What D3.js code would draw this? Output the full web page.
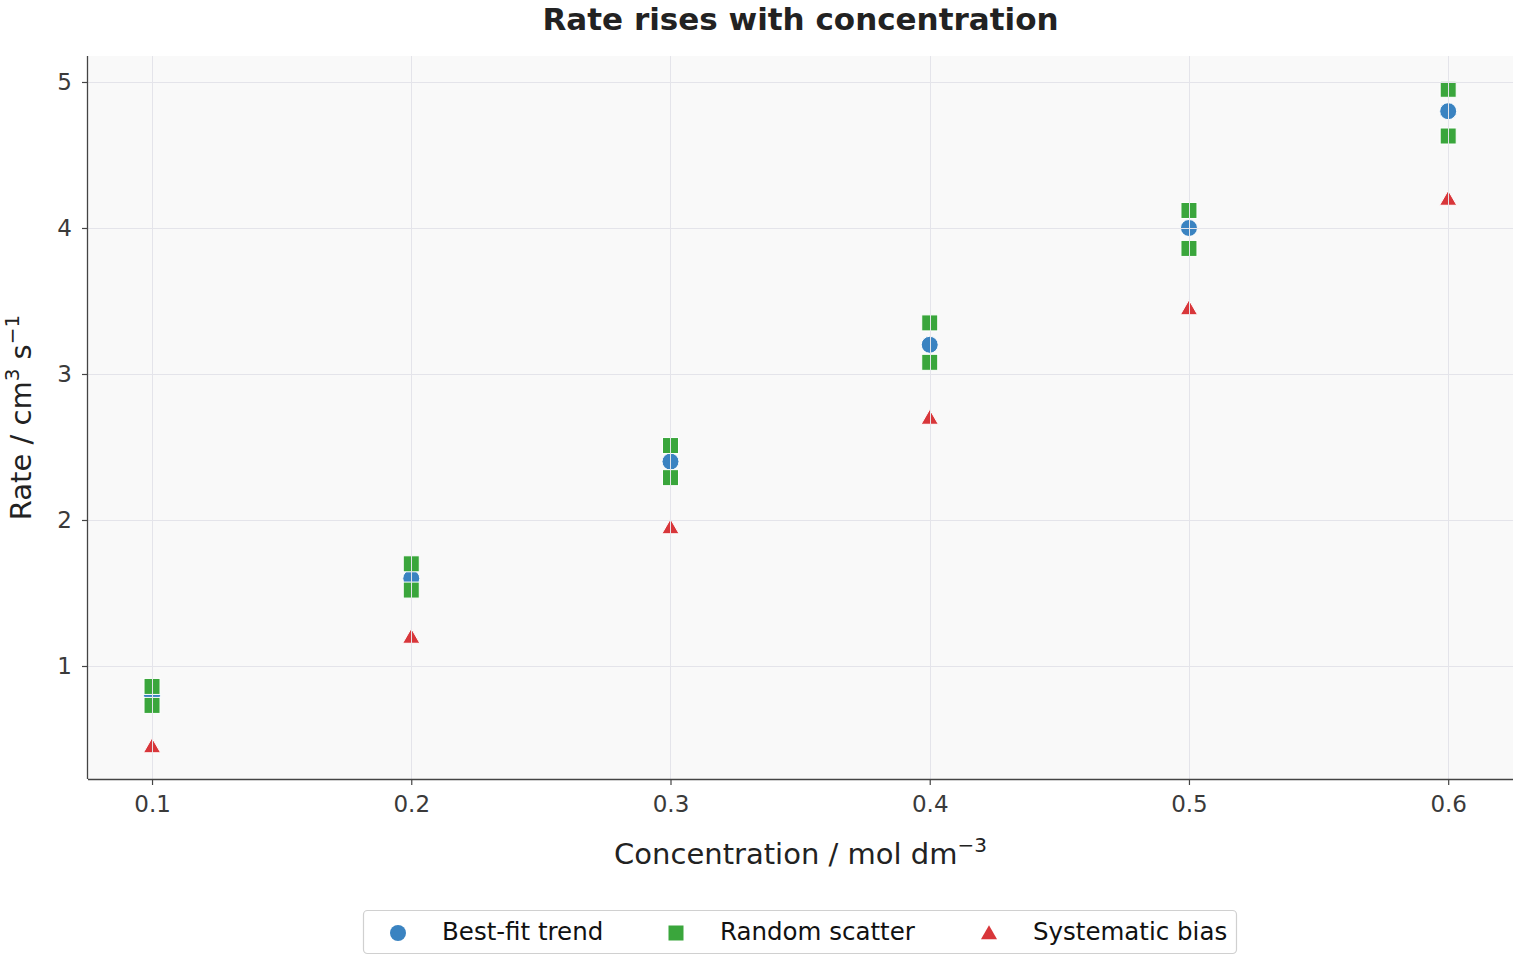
<!DOCTYPE html>
<html>
<head>
<meta charset="utf-8">
<script src="https://cdn.jsdelivr.net/npm/d3@7"></script>
<style>
  body { margin: 0; background: #ffffff; }
  svg { font-family: "DejaVu Sans", sans-serif; }
</style>
</head>
<body>
<svg id="chart" width="1520" height="960"></svg>
<script>
const concentrations = [0.1, 0.2, 0.3, 0.4, 0.5, 0.6];
const bestFit = [0.8, 1.6, 2.4, 3.2, 4.0, 4.8];
const randomHigh = [0.86, 1.70, 2.51, 3.35, 4.12, 4.95];
const randomLow = [0.73, 1.52, 2.29, 3.08, 3.86, 4.63];
const systematic = [0.45, 1.2, 1.95, 2.7, 3.45, 4.2];
const xTicks = [0.1, 0.2, 0.3, 0.4, 0.5, 0.6];
const yTicks = [1, 2, 3, 4, 5];
const seriesNames = ["Best-fit trend", "Random scatter", "Systematic bias"];
const colors = ["#3a83c1", "#3aa63c", "#d8363a"];

const svg = d3.select("#chart");
const L = 88, R = 1513, T = 56, B = 779;

const x = d3.scaleLinear().domain([0.0753, 0.625]).range([L, R]);
const y = d3.scaleLinear().domain([0.226, 5.178]).range([B, T]);

// Title
svg.append("text").attr("x", (L + R) / 2).attr("y", 30)
  .attr("text-anchor", "middle").attr("font-size", 31).attr("font-weight", "bold")
  .attr("fill", "#222").text("Rate rises with concentration");

// Plot background
svg.append("rect").attr("x", L).attr("y", T).attr("width", R - L).attr("height", B - T)
  .attr("fill", "#f9f9f9");

// Markers
const g = svg.append("g");
const circlesData = concentrations.map((c, i) => ({ c, v: bestFit[i] }));
const squaresData = concentrations.flatMap((c, i) => [{ c, v: randomHigh[i] }, { c, v: randomLow[i] }]);
const triData = concentrations.map((c, i) => ({ c, v: systematic[i] }));

g.selectAll("circle.bf").data(circlesData).join("circle")
  .attr("cx", d => x(d.c)).attr("cy", d => y(d.v)).attr("r", 8.5)
  .attr("fill", colors[0]).attr("stroke", "#fff").attr("stroke-width", 1);

g.selectAll("rect.rs").data(squaresData).join("rect")
  .attr("x", d => x(d.c) - 8).attr("y", d => y(d.v) - 8)
  .attr("width", 16).attr("height", 16)
  .attr("fill", colors[1]).attr("stroke", "#fff").attr("stroke-width", 1);

const triPath = d3.symbol().type(d3.symbolTriangle).size(128)();
g.selectAll("path.sb").data(triData).join("path")
  .attr("transform", d => `translate(${x(d.c)},${y(d.v) + 1.5})`)
  .attr("d", triPath)
  .attr("fill", colors[2]).attr("stroke", "#fff").attr("stroke-width", 1);

// Gridlines (drawn above markers, like the reference)
const grid = svg.append("g").attr("stroke", "#e4e4ea").attr("stroke-width", 1);
grid.selectAll("line.gx").data(xTicks).join("line")
  .attr("x1", d => Math.round(x(d)) + 0.5).attr("x2", d => Math.round(x(d)) + 0.5)
  .attr("y1", T).attr("y2", B);
grid.selectAll("line.gy").data(yTicks).join("line")
  .attr("y1", d => Math.round(y(d)) + 0.5).attr("y2", d => Math.round(y(d)) + 0.5)
  .attr("x1", L).attr("x2", R);

// Axes
const xAxis = d3.axisBottom(x).tickValues(xTicks).tickFormat(d3.format(".1f")).tickSize(6).tickPadding(11);
const yAxis = d3.axisLeft(y).tickValues(yTicks).tickFormat(d3.format("d")).tickSize(6).tickPadding(10);

const gx = svg.append("g").attr("transform", `translate(0,${B})`).call(xAxis);
const gy = svg.append("g").attr("transform", `translate(${L},0)`).call(yAxis);
[gx, gy].forEach(a => {
  a.select(".domain").attr("stroke", "#444").attr("stroke-width", 1.3);
  a.selectAll(".tick line").attr("stroke", "#444").attr("stroke-width", 1.2);
  a.selectAll(".tick text").attr("font-size", 23).attr("fill", "#3a3a3a")
    .attr("font-family", "DejaVu Sans, sans-serif");
});
gx.select(".domain").attr("d", `M${L},0.5H${R}`);
gy.select(".domain").attr("d", `M-0.5,${T}V${B}`);

// Axis labels
const xl = svg.append("text").attr("x", (L + R) / 2).attr("y", 864)
  .attr("text-anchor", "middle").attr("font-size", 29).attr("fill", "#222");
xl.append("tspan").text("Concentration / mol dm");
xl.append("tspan").attr("font-size", 20).attr("dy", -12).text("−3");

const yl = svg.append("text")
  .attr("transform", `translate(31,${(T + B) / 2}) rotate(-90)`)
  .attr("text-anchor", "middle").attr("font-size", 29).attr("fill", "#222");
yl.append("tspan").text("Rate / cm");
yl.append("tspan").attr("font-size", 20).attr("dy", -12).text("3");
yl.append("tspan").attr("dy", 12).text(" s");
yl.append("tspan").attr("font-size", 20).attr("dy", -12).text("−1");

// Legend
const lg = svg.append("g");
lg.append("rect").attr("x", 363.5).attr("y", 910.5).attr("width", 873).attr("height", 43)
  .attr("rx", 4).attr("fill", "#fff").attr("stroke", "#d0d0d0").attr("stroke-width", 1.2);
const legendX = [398, 676, 989];
const ly = 933;
lg.append("circle").attr("cx", legendX[0]).attr("cy", ly).attr("r", 8).attr("fill", colors[0]);
lg.append("rect").attr("x", legendX[1] - 7.5).attr("y", ly - 7.5).attr("width", 15).attr("height", 15).attr("fill", colors[1]);
lg.append("path").attr("transform", `translate(${legendX[2]},${ly + 1.5})`).attr("d", d3.symbol().type(d3.symbolTriangle).size(112)()).attr("fill", colors[2]);
seriesNames.forEach((n, i) => {
  lg.append("text").attr("x", legendX[i] + 44).attr("y", 940)
    .attr("font-size", 24.5).attr("fill", "#111").text(n);
});
</script>
</body>
</html>
